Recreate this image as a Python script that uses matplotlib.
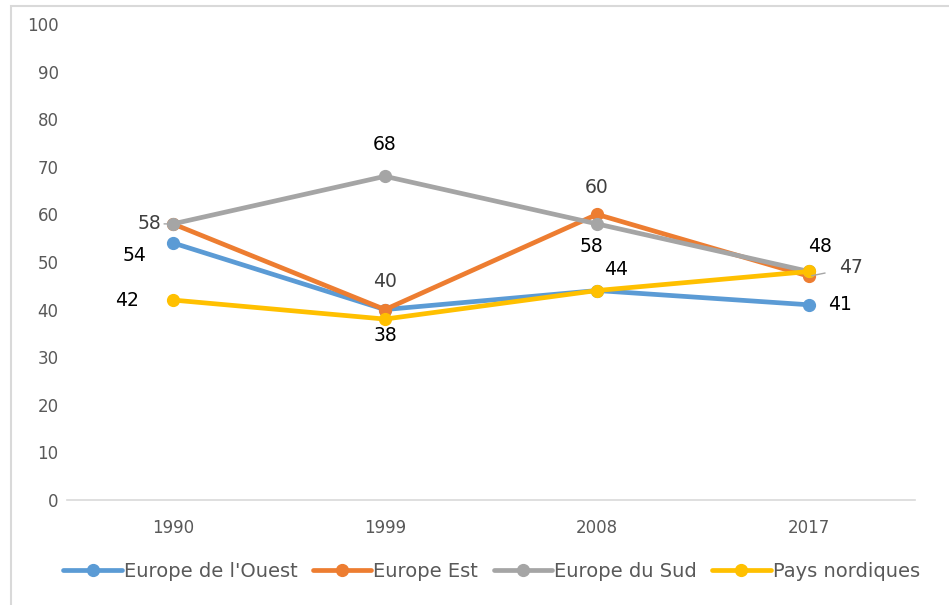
import matplotlib.pyplot as plt
from matplotlib.patches import Rectangle

years = ['1990', '1999', '2008', '2017']
series_names = ["Europe de l'Ouest", 'Europe Est', 'Europe du Sud', 'Pays nordiques']
ouest = [54, 40, 44, 41]
est = [58, 40, 60, 47]
sud = [58, 68, 58, 48]
nordiques = [42, 38, 44, 48]
colors = ['#5B9BD5', '#ED7D31', '#A5A5A5', '#FFC000']

plt.rcParams['font.family'] = ['DejaVu Sans']

fig = plt.figure(figsize=(9.49, 6.05), dpi=100)
ax = fig.add_axes([0.0706, 0.1736, 0.8936, 0.7868])

x = [i + 0.5 for i in range(len(years))]
for vals, name, c in zip([ouest, est, sud, nordiques], series_names, colors):
    ax.plot(x, vals, color=c, lw=3.4, marker='o', markersize=8.5, label=name,
            solid_capstyle='round')

# data labels (series, index, offset in points, colour, leader line)
def label(vals, i, dx, dy, color='black', leader=False):
    props = None
    if leader:
        props = dict(arrowstyle='-', color='#A6A6A6', lw=1, shrinkA=8, shrinkB=2)
    ax.annotate(str(vals[i]), (x[i], vals[i]), xytext=(dx, dy), textcoords='offset points',
                ha='center', va='center', fontsize=13.5, color=color, arrowprops=props)

label(est, 0, -17, 0, '#404040', leader=True)
label(ouest, 0, -28, -9)
label(nordiques, 0, -33, 0)
label(est, 1, 0, 20, '#404040')
label(sud, 1, 0, 23)
label(nordiques, 1, 0, -12)
label(est, 2, 0, 19, '#404040')
label(sud, 2, -4, -16)
label(nordiques, 2, 14, 15)
label(sud, 3, 8, 18)
label(est, 3, 30, 6, '#404040', leader=True)
label(ouest, 3, 22, 0)

ax.set_xlim(0, 4)
ax.set_ylim(0, 100)
ax.set_yticks(range(0, 101, 10))
ax.set_xticks(x)
ax.set_xticklabels(years)
ax.tick_params(axis='both', length=0, labelsize=12, colors='#595959')
ax.tick_params(axis='x', pad=14)
ax.tick_params(axis='y', pad=6)
for s in ['top', 'right', 'left']:
    ax.spines[s].set_visible(False)
ax.spines['bottom'].set_color('#D9D9D9')
ax.spines['bottom'].set_linewidth(1.2)

leg = fig.legend(loc='center', bbox_to_anchor=(0.518, 0.055), ncol=4, frameon=False,
                 fontsize=14, handlelength=3.0, handletextpad=0.1, columnspacing=0.8,
                 labelcolor='#595959')

fig.patches.append(Rectangle((11 / 949, -0.1), 1.1, 1.1 - 6 / 605, transform=fig.transFigure,
                             fill=False, edgecolor='#D9D9D9', lw=1.5))

fig.savefig('out.png', dpi=100)
